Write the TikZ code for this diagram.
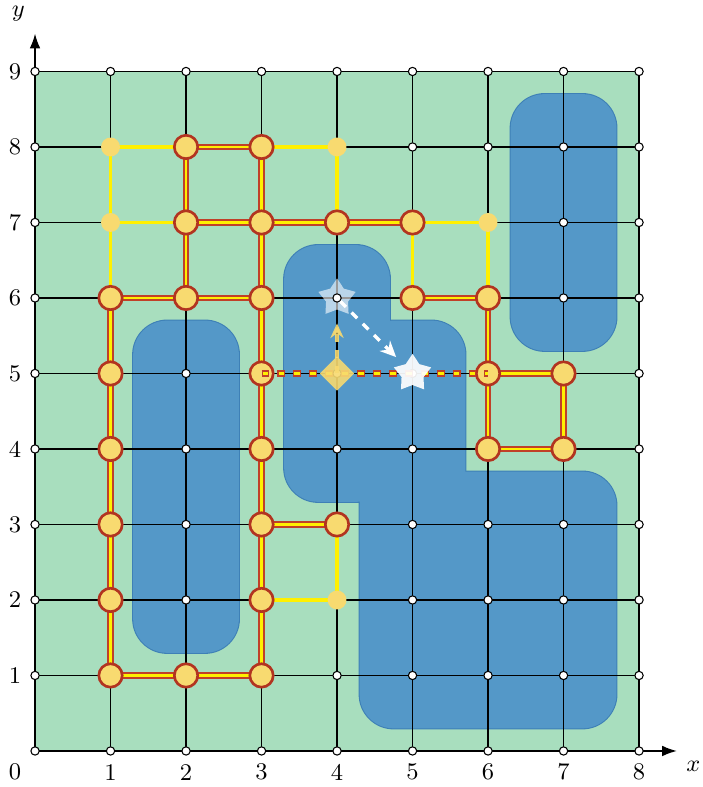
\documentclass[tikz,border=0pt]{standalone}
\usepackage{xcolor}
\definecolor{fieldgreen}{RGB}{168,222,190}
\definecolor{wallblue}{RGB}{84,152,200}
\definecolor{walledge}{RGB}{62,128,182}
\definecolor{cellyellow}{RGB}{248,218,112}
\definecolor{cellred}{RGB}{178,52,32}
\definecolor{pathred}{RGB}{192,64,40}
\definecolor{pathyellow}{RGB}{255,240,0}
\usepackage{tikz}
\usetikzlibrary{shapes.geometric, arrows.meta, positioning}

\begin{document}
\begin{tikzpicture}[
  gdot/.style={circle, fill=white, draw=black, line width=0.4pt, minimum size=0.11cm, inner sep=0pt},
  opencell/.style={circle, fill=cellyellow, minimum size=0.25cm, inner sep=0pt},
  closedcell/.style={circle, fill=cellyellow, draw=cellred, line width=1pt, minimum size=0.31cm, inner sep=0pt},
  walloutline/.style={draw=walledge, line width=0.8pt, rounded corners=0.45cm},
  wall/.style={fill=wallblue, rounded corners=0.45cm},
  openedge/.style={pathyellow, line width=1.3pt},
  closededge/.style={pathred, line width=2.3pt, postaction={draw=pathyellow, line width=1pt}},
  tracededge/.style={pathred, line width=2.3pt, dash pattern=on 3pt off 3pt,
               postaction={draw=pathyellow, line width=1pt, dash pattern=on 2.2pt off 3.8pt, dash phase=5.6pt}},
  axis/.style={-{Latex[length=5.5pt, width=4pt]}, black, line width=0.5pt},
  stepyellow/.style={-{Stealth[length=5.5pt, width=5pt]}, cellyellow, opacity=0.9, line width=1.2pt,
               dash pattern=on 3pt off 3pt},
  stepwhite/.style={-{Stealth[length=6pt, width=5.5pt]}, white, line width=1.25pt, dash pattern=on 3pt off 3pt},
  lbl/.style={font=\small, inner sep=0pt}
]
\useasboundingbox (-0.464,-0.477) rectangle (8.834,9.947);

% field and walls
\fill[fieldgreen] (0,0) rectangle (8,9);
\foreach \sty in {walloutline, wall} {
  \path[\sty] (1.3,1.3) rectangle (2.7,5.7);
  \path[\sty] (6.3,5.3) rectangle (7.7,8.7);
  \path[\sty] (4.3,0.3) rectangle (7.7,3.7);
  \path[\sty] (3.3,3.3) rectangle (4.7,6.7);
  \path[\sty] (4.3,3.0) rectangle (5.7,5.7);
}

% grid and axes
\draw[black, line width=0.5pt] (0,0) grid (8,9);
\coordinate (xend) at (8.5,0);
\coordinate (yend) at (0,9.5);
\draw[axis] (0,0) -- (xend);
\draw[axis] (0,0) -- (yend);
\node[lbl] (xlab) at (8.72,-0.21) {$x$};
\node[lbl] (ylab) at (-0.22,9.76) {$y$};
\node[lbl] (zero) at (-0.265,-0.28) {0};
\foreach \x in {1,...,8}
  \node[lbl] (xt-\x) at (\x,-0.28) {\x};
\foreach \y in {1,...,9}
  \node[lbl] (yt-\y) at (-0.265,\y) {\y};

% agent seen at (4,6)
\node[star, star points=5, star point ratio=1.7, minimum size=0.52cm, inner sep=0pt,
      fill=white, fill opacity=0.6] (seen) at (4,6) {};

% grid points
\foreach \x in {0,...,8}
  \foreach \y in {0,...,9}
    \node[gdot] (g-\x-\y) at (\x,\y) {};

% search tree
\foreach \a/\b in {1-8/2-8, 1-8/1-7, 1-7/2-7, 1-7/1-6, 3-8/4-8, 4-8/4-7,
                   5-7/6-7, 6-7/6-6, 5-7/5-6, 4-3/4-2, 3-2/4-2}
  \draw[openedge] (g-\a.center) -- (g-\b.center);
\foreach \a/\b in {2-8/3-8, 2-8/2-7, 3-8/3-7, 2-7/3-7, 3-7/4-7, 4-7/5-7,
                   2-7/2-6, 3-7/3-6, 1-6/2-6, 2-6/3-6, 5-6/6-6, 6-6/6-5,
                   6-5/6-4, 6-4/7-4, 7-4/7-5, 6-5/7-5, 1-6/1-5, 1-5/1-4,
                   1-4/1-3, 1-3/1-2, 1-2/1-1, 1-1/2-1, 2-1/3-1, 3-1/3-2,
                   3-2/3-3, 3-3/3-4, 3-4/3-5, 3-5/3-6, 3-3/4-3}
  \draw[closededge] (g-\a.center) -- (g-\b.center);
\foreach \c in {1-8, 4-8, 1-7, 6-7, 4-2}
  \node[opencell] (o-\c) at (g-\c) {};
\foreach \c in {2-8, 3-8, 2-7, 3-7, 4-7, 5-7, 1-6, 2-6, 3-6, 5-6, 6-6,
                1-5, 3-5, 6-5, 7-5, 1-4, 3-4, 6-4, 7-4, 1-3, 3-3, 4-3,
                1-2, 3-2, 1-1, 2-1, 3-1}
  \node[closedcell] (c-\c) at (g-\c) {};

% current line of sight
\draw[tracededge] (g-3-5.center) -- (g-6-5.center);
\draw[stepyellow, shorten >=0.275cm] (g-4-5.center) -- (g-4-6);
\node[diamond, aspect=1, minimum size=0.46cm, inner sep=0pt,
      fill=cellyellow, fill opacity=0.9] (start) at (g-4-5) {};
\node[star, star points=5, star point ratio=1.7, minimum size=0.52cm, inner sep=0pt,
      fill=white, fill opacity=0.92] (goal) at (g-5-5) {};
\draw[stepwhite, shorten >=0.245cm] (g-4-6) -- (g-5-5);
\end{tikzpicture}
\end{document}
